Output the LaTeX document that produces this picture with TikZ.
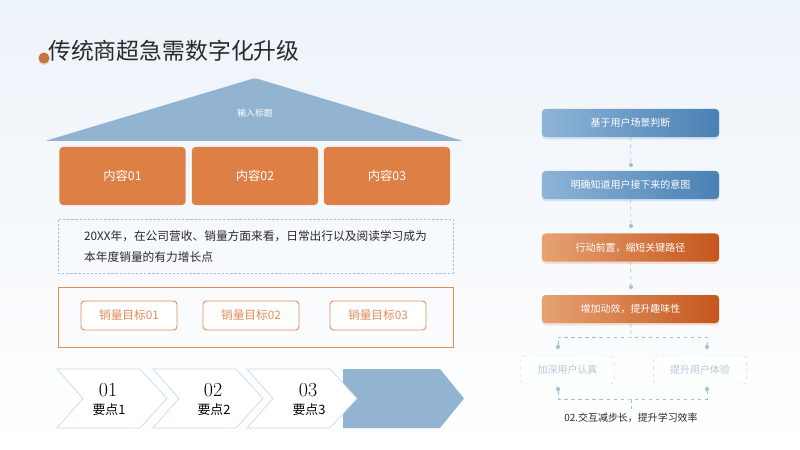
\documentclass[tikz,border=0pt]{standalone}
\usepackage{fontspec}
\newfontfamily\cjk{Noto Sans CJK SC}
\usetikzlibrary{shadows}
\definecolor{bgtop}{HTML}{EDF3FA}
\definecolor{roofblue}{HTML}{93B4D1}
\definecolor{pillar}{HTML}{DE7F46}
\definecolor{goalorange}{HTML}{E08C5A}
\definecolor{lineblue}{HTML}{A3BFD8}
\definecolor{chevline}{HTML}{C9DAEA}
\definecolor{stepblueL}{HTML}{8DB4D7}
\definecolor{stepblueR}{HTML}{4A81B4}
\definecolor{steporangeL}{HTML}{E7A273}
\definecolor{steporangeR}{HTML}{C4561D}
\definecolor{paletext}{HTML}{B5C8D9}
\definecolor{ink}{HTML}{2A2A2A}

\tikzstyle{pillarbox}=[rectangle,rounded corners=3pt,fill=pillar,minimum width=3.78cm,minimum height=1.74cm,text=white,font=\cjk\fontsize{10.5}{12}\selectfont]
\tikzstyle{goalbox}=[rectangle,rounded corners=3pt,draw=goalorange,line width=0.8pt,fill=white,minimum width=2.88cm,minimum height=0.87cm,text=goalorange,font=\cjk\fontsize{10}{12}\selectfont]
\tikzstyle{flowblue}=[rectangle,rounded corners=3pt,left color=stepblueL,right color=stepblueR,minimum width=5.31cm,minimum height=0.84cm,text=white,font=\cjk\fontsize{8.5}{10}\selectfont,drop shadow={shadow xshift=0pt,shadow yshift=-2pt,opacity=.3,fill=stepblueL}]
\tikzstyle{floworange}=[rectangle,rounded corners=3pt,left color=steporangeL,right color=steporangeR,minimum width=5.31cm,minimum height=0.84cm,text=white,font=\cjk\fontsize{8.5}{10}\selectfont,drop shadow={shadow xshift=0pt,shadow yshift=-2pt,opacity=.3,fill=steporangeL}]
\tikzstyle{flowpale}=[rectangle,rounded corners=3pt,draw=chevline,dashed,fill=white,fill opacity=.5,text opacity=1,minimum width=2.8cm,minimum height=0.84cm,text=paletext,font=\cjk\fontsize{8.5}{10}\selectfont]
\tikzstyle{flowdot}=[circle,fill=lineblue,inner sep=0pt,minimum size=3.5pt]
\tikzstyle{conn}=[draw=lineblue,dashed,line width=0.6pt]
\tikzstyle{chevron}=[fill=white,draw=chevline,line width=0.6pt]

\begin{document}
\begin{tikzpicture}[x=0.03cm,y=-0.03cm]
\fill[top color=bgtop,bottom color=white] (0,0) rectangle (800,450);
\useasboundingbox (0,0) rectangle (800,450);

\node[circle,fill=pillar!90!black,minimum size=0.33cm,inner sep=0pt,drop shadow={shadow xshift=0pt,shadow yshift=-1.5pt,opacity=.3,fill=pillar}] (titledot) at (44,58) {};
\node[anchor=west,inner sep=0pt,text=ink,font=\cjk\fontsize{19.5}{22}\selectfont] (title) at (48,51) {传统商超急需数字化升级};

\fill[roofblue,rounded corners=1.5pt] (45,141) -- (255,78) -- (463,141) -- cycle;
\node[text=white,font=\cjk\fontsize{7.5}{8}\selectfont] (roof) at (255,113) {输入标题};

\foreach \pos/\name/\txt in {{(122.5,176)/c1/内容01}, {(255,176)/c2/内容02}, {(387,176)/c3/内容03}}
\node[pillarbox] (\name) at \pos {\txt};

\node[draw=lineblue,dash pattern=on 2pt off 1.5pt,line width=0.6pt,minimum width=11.85cm,minimum height=1.62cm] (paraframe) at (255.5,246) {};
\node[anchor=west,align=left,text=ink,font=\cjk\fontsize{10}{18}\selectfont] (para) at (80,246.5) {20XX年，在公司营收、销量方面来看，日常出行以及阅读学习成为\\本年度销量的有力增长点};

\node[draw=goalorange,line width=0.7pt,minimum width=11.85cm,minimum height=1.8cm] (goalframe) at (255.5,317) {};
\foreach \pos/\name/\txt in {{(129,315.5)/g1/销量目标01}, {(251,315.5)/g2/销量目标02}, {(378,315.5)/g3/销量目标03}}
\node[goalbox] (\name) at \pos {\txt};

\fill[roofblue] (343,369) -- (440,369) -- (464,398.5) -- (440,428) -- (343,428) -- cycle;
\foreach \x/\tx/\num/\k in {57/108/01/1, 153/213/02/2, 247/308/03/3}{
\draw[chevron] (\x,369) -- (\x+83,369) -- (\x+110,398.5) -- (\x+83,428) -- (\x,428) -- (\x+26,398.5) -- cycle;
\node[text=black,font=\fontsize{17}{18}\selectfont] (n\k) at (\tx,390.5) {\num};
\node[text=black,font=\cjk\fontsize{11}{12}\selectfont] (k\k) at (\tx+1,409.5) {要点\k};
}

\foreach \y/\name/\kind/\txt in {123/s1/flowblue/基于用户场景判断, 185/s2/flowblue/明确知道用户接下来的意图, 247.5/s3/floworange/行动前置，缩短关键路径, 309/s4/floworange/增加动效，提升趣味性}
\node[\kind] (\name) at (630.5,\y) {\txt};

\foreach \pos/\name in {{(631,165)/d1}, {(631,226)/d2}, {(631,287)/d3}, {(558,347)/d4}, {(707,347)/d5}, {(558,389)/d6}, {(707,389)/d7}}
\node[flowdot] (\name) at \pos {};

\foreach \source/\dest in {s1/d1, s2/d2, s3/d3}
\draw[conn] (\source) -- (\dest);

\node[flowpale] (p1) at (567.5,370) {加深用户认真};
\node[flowpale] (p2) at (700,370) {提升用户体验};
\node[text=ink,font=\cjk\fontsize{8.5}{10}\selectfont] (note) at (631,418) {02.交互减步长，提升学习效率};

\coordinate (split) at (631,337);
\coordinate (merge) at (631,399);
\draw[conn] (s4) -- (split);
\draw[conn] (d4) |- (split) -| (d5);
\draw[conn] (d6) |- (merge) -| (d7);
\draw[conn] (merge) -- (note);
\end{tikzpicture}
\end{document}
